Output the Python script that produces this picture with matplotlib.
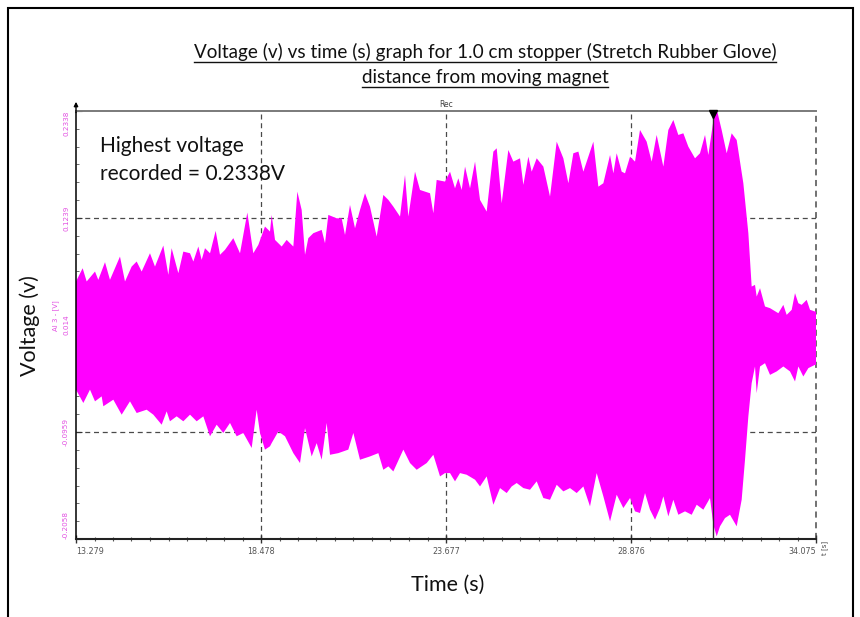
import numpy as np
import matplotlib
matplotlib.use("Agg")
import matplotlib.pyplot as plt
from matplotlib.lines import Line2D
from matplotlib.patches import Rectangle
from matplotlib.ticker import AutoMinorLocator

# ---------------- data ----------------
title_lines = ["Voltage (v) vs time (s) graph for 1.0 cm stopper (Stretch Rubber Glove)",
               "distance from moving magnet"]
x_label = "Time (s)"
y_label = "Voltage (v)"
note_lines = ["Highest voltage", "recorded = 0.2338V"]

x_ticks = [13.279, 18.478, 23.677, 28.876, 34.075]
x_tick_labels = ["13.279", "18.478", "23.677", "28.876", "34.075"]
y_ticks = [0.2338, 0.1239, 0.014, -0.0959, -0.2058]
y_tick_labels = ["0.2338", "0.1239", "0.014", "-0.0959", "-0.2058"]

cursor_time = 31.19

# upper envelope of the oscillating signal
t_upper = [13.279, 13.466, 13.579, 13.813, 13.906, 14.094, 14.234, 14.515, 14.656, 14.843,
           14.984, 15.124, 15.358, 15.499, 15.733, 15.874, 15.967, 16.155, 16.295, 16.483,
           16.576, 16.717, 16.811, 16.904, 17.045, 17.204, 17.326, 17.466, 17.700, 17.888,
           18.094, 18.262, 18.403, 18.590, 18.731, 18.778, 18.872, 19.059, 19.199, 19.387,
           19.499, 19.621, 19.715, 19.808, 19.949, 20.183, 20.277, 20.370, 20.605, 20.745,
           20.839, 20.979, 21.120, 21.260, 21.401, 21.541, 21.729, 21.916, 22.057, 22.197,
           22.385, 22.525, 22.619, 22.806, 22.947, 23.228, 23.321, 23.415, 23.649, 23.790,
           23.930, 24.024, 24.118, 24.212, 24.352, 24.493, 24.633, 24.820, 25.008, 25.102,
           25.242, 25.429, 25.570, 25.757, 25.851, 25.991, 26.085, 26.226, 26.413, 26.600,
           26.788, 26.975, 27.116, 27.256, 27.397, 27.537, 27.818, 27.959, 28.099, 28.287,
           28.380, 28.474, 28.614, 28.708, 28.849, 28.989, 29.129, 29.316, 29.457, 29.597,
           29.785, 29.925, 30.066, 30.206, 30.347, 30.487, 30.675, 30.815, 30.956, 31.050,
           31.230, 31.302, 31.424, 31.565, 31.705, 31.846, 32.033, 32.174, 32.267, 32.361,
           32.408, 32.502, 32.642, 32.783, 33.017, 33.157, 33.251, 33.392, 33.485, 33.579,
           33.672, 33.813, 33.907, 34.047, 34.075]
v_upper = [0.0587, 0.0723, 0.0587, 0.0689, 0.0604, 0.0785, 0.0604, 0.0843, 0.0587, 0.0740,
           0.0792, 0.0689, 0.0877, 0.0740, 0.0956, 0.0655, 0.0929, 0.0672, 0.0894, 0.0877,
           0.0792, 0.0946, 0.0809, 0.0929, 0.0877, 0.1107, 0.0861, 0.0912, 0.1032, 0.0877,
           0.1295, 0.0877, 0.0963, 0.1151, 0.1100, 0.1271, 0.1014, 0.0946, 0.1014, 0.0946,
           0.1510, 0.1322, 0.0861, 0.1032, 0.1083, 0.1117, 0.0980, 0.1271, 0.1236, 0.1236,
           0.1065, 0.1373, 0.1134, 0.1322, 0.1493, 0.1356, 0.1048, 0.1476, 0.1425, 0.1356,
           0.1254, 0.1681, 0.1254, 0.1715, 0.1527, 0.1493, 0.1288, 0.1630, 0.1613, 0.1715,
           0.1544, 0.1647, 0.1527, 0.1767, 0.1544, 0.1818, 0.1425, 0.1305, 0.1921, 0.1955,
           0.1390, 0.1938, 0.1818, 0.1852, 0.1579, 0.1869, 0.1715, 0.1852, 0.1767, 0.1459,
           0.2023, 0.1852, 0.1596, 0.1904, 0.1921, 0.1715, 0.2023, 0.1561, 0.1596, 0.1886,
           0.1698, 0.1904, 0.1715, 0.1698, 0.1869, 0.1818, 0.2143, 0.2023, 0.1818, 0.2092,
           0.1767, 0.2143, 0.2246, 0.2092, 0.2109, 0.1972, 0.1852, 0.1904, 0.2092, 0.1886,
           0.2338, 0.2331, 0.2143, 0.1904, 0.2109, 0.2040, 0.1596, 0.1083, 0.0535, 0.0552,
           0.0432, 0.0518, 0.0330, 0.0313, 0.0261, 0.0347, 0.0244, 0.0296, 0.0467, 0.0364,
           0.0347, 0.0398, 0.0296, 0.0278, 0.0280]

# lower envelope of the oscillating signal
t_lower = [13.279, 13.485, 13.672, 13.813, 14.000, 14.047, 14.328, 14.562, 14.796, 14.984,
           15.265, 15.452, 15.686, 15.827, 15.920, 16.108, 16.295, 16.483, 16.670, 16.857,
           17.045, 17.232, 17.419, 17.607, 17.794, 17.981, 18.216, 18.356, 18.450, 18.590,
           18.731, 18.778, 18.965, 19.153, 19.387, 19.574, 19.715, 19.902, 20.043, 20.183,
           20.324, 20.417, 20.651, 20.932, 21.073, 21.260, 21.541, 21.776, 21.916, 22.057,
           22.197, 22.478, 22.666, 22.853, 23.134, 23.321, 23.509, 23.649, 23.790, 23.930,
           24.071, 24.258, 24.493, 24.633, 24.820, 25.008, 25.195, 25.383, 25.523, 25.664,
           25.851, 26.038, 26.226, 26.413, 26.600, 26.788, 26.975, 27.162, 27.350, 27.537,
           27.724, 27.912, 28.099, 28.287, 28.474, 28.661, 28.849, 28.989, 29.129, 29.270,
           29.410, 29.551, 29.691, 29.785, 29.925, 30.066, 30.206, 30.394, 30.581, 30.722,
           30.909, 31.096, 31.190, 31.284, 31.377, 31.518, 31.658, 31.846, 31.986, 32.080,
           32.174, 32.267, 32.361, 32.408, 32.502, 32.642, 32.783, 32.970, 33.157, 33.345,
           33.485, 33.579, 33.719, 33.860, 34.047, 34.075]
v_lower = [-0.0524, -0.0661, -0.0524, -0.0644, -0.0593, -0.0695, -0.0627, -0.0781, -0.0644, -0.0764,
           -0.0730, -0.0781, -0.0884, -0.0747, -0.0849, -0.0798, -0.0849, -0.0781, -0.0849, -0.0798,
           -0.1003, -0.0884, -0.0969, -0.0866, -0.1003, -0.0969, -0.1123, -0.0730, -0.0969, -0.1140,
           -0.1106, -0.1073, -0.0953, -0.1003, -0.1176, -0.1278, -0.0919, -0.1210, -0.1073, -0.1244,
           -0.0866, -0.1193, -0.1176, -0.1140, -0.0969, -0.1244, -0.1210, -0.1176, -0.1347, -0.1312,
           -0.1364, -0.1140, -0.1278, -0.1347, -0.1278, -0.1193, -0.1415, -0.1381, -0.1381, -0.1466,
           -0.1381, -0.1398, -0.1449, -0.1518, -0.1415, -0.1706, -0.1535, -0.1586, -0.1518, -0.1483,
           -0.1535, -0.1552, -0.1466, -0.1637, -0.1655, -0.1501, -0.1569, -0.1535, -0.1586, -0.1518,
           -0.1723, -0.1381, -0.1620, -0.1877, -0.1603, -0.1740, -0.1637, -0.1774, -0.1791, -0.1586,
           -0.1757, -0.1860, -0.1740, -0.1620, -0.1826, -0.1655, -0.1809, -0.1774, -0.1809, -0.1706,
           -0.1757, -0.1637, -0.1911, -0.2031, -0.1928, -0.1843, -0.1809, -0.1928, -0.1655, -0.1244,
           -0.0798, -0.0457, -0.0286, -0.0560, -0.0286, -0.0252, -0.0372, -0.0337, -0.0286, -0.0337,
           -0.0440, -0.0286, -0.0389, -0.0303, -0.0269, -0.0270]

# ---------------- figure ----------------
W, H = 860, 617
fig = plt.figure(figsize=(W / 100, H / 100), dpi=100)
fig.patch.set_facecolor("white")

# outer frame of the pasted picture
fig.add_artist(Rectangle((8 / W, -0.05), (853 - 8) / W, 1.05 - 8 / H,
                         transform=fig.transFigure, fill=False,
                         edgecolor="black", linewidth=1.5))

ax = fig.add_axes([76 / W, 1 - 539 / H, (816 - 76) / W, (539 - 111) / H])
ax.set_xlim(x_ticks[0], x_ticks[-1])
ax.set_ylim(y_ticks[-1], y_ticks[0])

dash = (0, (4, 3))
grid_col = "#4a4a4a"
for xt in x_ticks[1:-1]:
    ax.axvline(xt, color=grid_col, lw=0.9, linestyle=dash, zorder=1)
for yt in y_ticks[1:-1]:
    ax.axhline(yt, color=grid_col, lw=0.9, linestyle=dash, zorder=1)
ax.axvline(x_ticks[-1], color=grid_col, lw=1.1, linestyle=dash, zorder=1, clip_on=False)

# signal envelope (dense oscillation rendered as solid band)
ax.fill(np.concatenate([t_upper, t_lower[::-1]]),
        np.concatenate([v_upper, v_lower[::-1]]),
        color="#ff00ff", lw=0, zorder=2)

# cursor
ax.axvline(cursor_time, color="#2a2a2a", lw=1.0, zorder=3)
ax.plot([cursor_time], [y_ticks[0] - 0.003], marker="v", color="black", ms=6,
        clip_on=False, zorder=5)

# spines
ax.spines["right"].set_visible(False)
ax.spines["top"].set_color("#7a7a7a")
ax.spines["top"].set_linewidth(1.4)
ax.spines["left"].set_color("black")
ax.spines["left"].set_linewidth(1.1)
ax.spines["bottom"].set_color("#222222")
ax.spines["bottom"].set_linewidth(1.5)

ax.annotate("", xy=(0, 1.028), xytext=(0, 0.99), xycoords="axes fraction",
            arrowprops=dict(arrowstyle="-|>", color="black", lw=1.0, mutation_scale=6))

# ticks
ax.set_xticks(x_ticks, x_tick_labels)
ax.set_yticks(y_ticks, y_tick_labels)
ax.xaxis.set_minor_locator(AutoMinorLocator(10))
ax.yaxis.set_minor_locator(AutoMinorLocator(6))
ax.tick_params(axis="x", which="major", direction="inout", length=6, width=1,
               color="#333333", labelsize=5.8, labelcolor="#555555", pad=2.5)
ax.tick_params(axis="x", which="minor", direction="inout", length=3, width=0.8, color="#555555")
ax.tick_params(axis="y", which="major", direction="in", length=4, width=0.8,
               color="#333333", labelsize=5.2, labelcolor="#e24fe2", pad=5,
               labelrotation=90)
ax.tick_params(axis="y", which="minor", direction="in", length=2, width=0.6, color="#555555")

for lab in ax.get_xticklabels():
    if lab.get_text() == x_tick_labels[0]:
        lab.set_ha("left")
    elif lab.get_text() == x_tick_labels[-1]:
        lab.set_ha("right")
for lab in ax.get_yticklabels():
    lab.set_va("center")
    if lab.get_text() == y_tick_labels[0]:
        lab.set_va("top")
    elif lab.get_text() == y_tick_labels[-1]:
        lab.set_va("bottom")

# small instrument labels
ax.text(x_ticks[2], 1.004, "Rec", transform=ax.get_xaxis_transform(),
        ha="center", va="bottom", fontsize=5.5, color="#444444")
fig.text(56 / W, 1 - 316 / H, "AI 3 - [V]", rotation=90, ha="center", va="center",
         fontsize=5, color="#e24fe2")
fig.text(825 / W, 1 - 548 / H, "t [s]", rotation=90, ha="center", va="center",
         fontsize=5, color="#444444")

# main texts
font = "Lato"
fig.text(30 / W, 1 - 326 / H, y_label, rotation=90, ha="center", va="center",
         fontsize=15.5, family=font, color="#111111")
fig.text(448 / W, 1 - 585 / H, x_label, ha="center", va="center",
         fontsize=15.5, family=font, color="#111111")
for i, line in enumerate(note_lines):
    fig.text(100 / W, 1 - (152 + 28 * i) / H, line, ha="left", va="baseline",
             fontsize=15, family=font, color="#111111")

title_texts = []
for i, line in enumerate(title_lines):
    t = fig.text(485 / W, 1 - (58 + 25 * i) / H, line, ha="center", va="baseline",
                 fontsize=13.6, family=font, color="#111111")
    title_texts.append(t)

fig.canvas.draw()
renderer = fig.canvas.get_renderer()
for t in title_texts:
    bb = t.get_window_extent(renderer)
    ty = t.get_position()[1] * H - 3.5
    fig.add_artist(Line2D([bb.x0 / W, bb.x1 / W], [ty / H, ty / H],
                          transform=fig.transFigure, color="#111111", lw=1.0))

fig.savefig("out.png", dpi=100, facecolor="white")
